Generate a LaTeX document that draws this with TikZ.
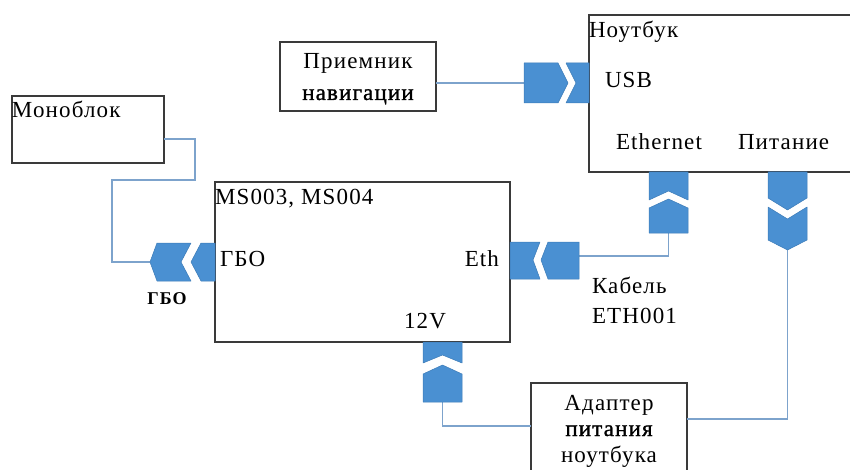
\documentclass[tikz,border=0pt]{standalone}
\usepackage{fontspec}
\setmainfont{Liberation Serif}[LetterSpace=5]
\newfontfamily\semibold{Liberation Serif}[LetterSpace=5, FakeBold=1.2]
\definecolor{connfill}{HTML}{4A90D2}
\definecolor{conndraw}{HTML}{3D7CB8}
\definecolor{wirec}{HTML}{7DA3CC}
\definecolor{boxc}{HTML}{3A3A3A}
\tikzset{
  box/.style={draw=boxc, line width=1.4pt, fill=white, inner sep=0pt, outer sep=0pt, anchor=north west},
  lbl/.style={inner sep=0pt, outer sep=0pt, font=\fontsize{23}{26}\selectfont},
  wire/.style={draw=wirec, line width=1.6pt},
  conn/.style={fill=connfill, draw=conndraw, line width=0.5pt, line join=round},
}
\begin{document}
\begin{tikzpicture}[x=1pt,y=-1pt]
\useasboundingbox (0,0) rectangle (850,470);

% boxes
\node[box, minimum width=152pt, minimum height=67pt] (mono) at (12,96) {};
\node[box, minimum width=156pt, minimum height=69pt] (nav) at (280,42) {};
\node[box, minimum width=275pt, minimum height=157pt] (note) at (589,15) {};
\node[box, minimum width=295pt, minimum height=160pt] (ms) at (215,182) {};
\node[box, minimum width=156pt, minimum height=100pt] (adapt) at (531,383) {};

% connector end points
\coordinate (gboL) at (150,262);
\coordinate (usbL) at (524,83);
\coordinate (ethR) at (579,256);
\coordinate (ethB) at (668.5,233);
\coordinate (pitB) at (787.5,250);
\coordinate (vB) at (442.5,402);

% wires
\draw[wire] (mono.east |- 0,139) -| (195,180) -| (112,262) -- (gboL);
\draw[wire] (nav.east |- usbL) -- (usbL);
\draw[wire] (ethR) -| (ethB);
\draw[wire] (vB) |- (adapt.west |- 0,426);
\draw[wire] (pitB) |- (adapt.east |- 0,419);

% connectors
% GBO
\path[conn] (157,243) -- (191,243) -- (181,262) -- (191,281) -- (157,281) -- (gboL) -- cycle;
\path[conn] (201,243) -- (215,243) -- (215,281) -- (201,281) -- (191,262) -- cycle;
% Eth
\path[conn] (510,242) -- (540,242) -- (533,260) -- (540,279) -- (510,279) -- cycle;
\path[conn] (548,242) -- (579,242) -- (579,279) -- (548,279) -- (541,260) -- cycle;
% USB
\path[conn] (usbL |- 0,63) -- (558,63) -- (568,83) -- (558,103) -- (524,103) -- cycle;
\path[conn] (566,63) -- (589,63) -- (589,103) -- (566,103) -- (576,83) -- cycle;
% Ethernet
\path[conn] (649,172) -- (688,172) -- (688,200) -- (668.5,191) -- (649,200) -- cycle;
\path[conn] (649,208) -- (668.5,199) -- (688,208) -- (688,233) -- (649,233) -- cycle;
% Pitanie
\path[conn] (768,172) -- (807,172) -- (807,198) -- (787.5,210) -- (768,198) -- cycle;
\path[conn] (768,207) -- (787.5,219) -- (807,207) -- (807,240) -- (pitB) -- (768,240) -- cycle;
% 12V
\path[conn] (423,342) -- (462,342) -- (462,363) -- (442.5,355) -- (423,363) -- cycle;
\path[conn] (423,374) -- (442.5,365) -- (462,374) -- (462,402) -- (423,402) -- cycle;

% labels
\node[lbl, anchor=base west] (tmono) at (12,118) {Моноблок};
\node[lbl, anchor=base] (tnav1) at (358,69) {Приемник};
\node[lbl, anchor=base] (tnav2) at (358,100) {\semibold навигации};
\node[lbl, anchor=base west] (tnote) at (589,38) {Ноутбук};
\node[lbl, anchor=base west] (tusb) at (605,88) {USB};
\node[lbl, anchor=base west] (teth) at (616,150) {Ethernet};
\node[lbl, anchor=base west] (tpit) at (738,150) {Питание};
\node[lbl, anchor=base west] (tms) at (215,205) {MS003, MS004};
\node[lbl, anchor=base west] (tgbo) at (220,266) {ГБО};
\node[lbl, anchor=base east] (tethp) at (499,266) {Eth};
\node[lbl, anchor=base west] (t12) at (404,328) {12V};
\node[lbl, anchor=base, font=\fontsize{18}{20}\selectfont\bfseries] (tgbo2) at (167,304) {ГБО};
\node[lbl, anchor=base west] (tcab1) at (592,293) {Кабель};
\node[lbl, anchor=base west] (tcab2) at (592,323) {ETH001};
\node[lbl, anchor=base] (tad1) at (609,410) {Адаптер};
\node[lbl, anchor=base] (tad2) at (609,436) {\semibold питания};
\node[lbl, anchor=base] (tad3) at (609,462) {ноутбука};
\end{tikzpicture}
\end{document}
